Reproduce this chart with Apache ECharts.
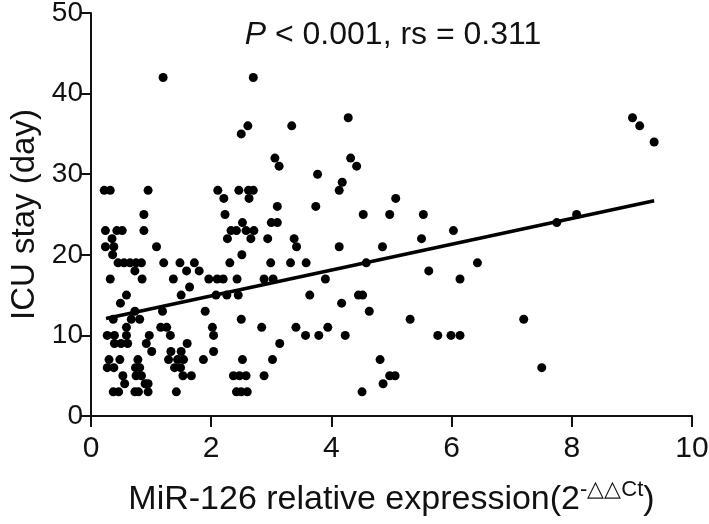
<!DOCTYPE html>
<html>
<head>
<meta charset="utf-8">
<title>MiR-126 vs ICU stay</title>
<script src="https://cdn.jsdelivr.net/npm/echarts@6/dist/echarts.min.js"></script>
<style>
  html, body { margin: 0; padding: 0; background: #fff; }
  #chart { width: 709px; height: 524px; }
</style>
</head>
<body>
<div id="chart"></div>
<script>
// axis ticks
const xTicks = [0, 2, 4, 6, 8, 10];
const yTicks = [0, 10, 20, 30, 40, 50];

// [miR-126 relative expression, ICU stay (day)]
const patients = [
  [1.2, 42], [2.7, 42],
  [4.28, 37], [9.01, 37],
  [2.61, 36], [3.34, 36], [9.13, 36],
  [2.5, 35], [9.37, 34],
  [3.06, 32], [4.32, 32], [3.13, 31], [4.42, 31],
  [3.77, 30], [4.18, 29],
  [0.22, 28], [0.32, 28], [0.95, 28], [2.11, 28], [2.46, 28], [2.62, 28], [2.7, 28], [4.13, 28],
  [2.21, 27], [2.63, 27], [5.07, 27],
  [3.1, 26], [3.74, 26],
  [0.88, 25], [2.23, 25], [4.53, 25], [4.97, 25], [5.53, 25], [8.08, 25],
  [2.52, 24], [3.0, 24], [3.1, 24], [7.75, 24],
  [0.24, 23], [0.43, 23], [0.52, 23], [0.88, 23], [2.33, 23], [2.42, 23], [2.58, 23], [2.71, 23], [6.03, 23],
  [0.35, 22], [2.27, 22], [2.66, 22], [2.94, 22], [3.38, 22], [5.5, 22],
  [0.24, 21], [0.38, 21], [1.09, 21], [3.42, 21], [4.13, 21], [4.85, 21],
  [0.36, 20], [2.51, 20],
  [0.45, 19], [0.55, 19], [0.65, 19], [0.75, 19], [0.84, 19], [1.21, 19], [1.48, 19], [1.72, 19],
  [2.31, 19], [2.99, 19], [3.32, 19], [3.58, 19], [4.58, 19], [6.43, 19],
  [0.73, 18], [1.59, 18], [1.8, 18], [5.62, 18],
  [0.32, 17], [0.85, 17], [1.37, 17], [1.96, 17], [2.1, 17], [2.2, 17], [2.43, 17], [2.88, 17],
  [3.03, 17], [3.9, 17], [6.14, 17],
  [1.64, 16],
  [0.59, 15], [1.5, 15], [2.08, 15], [2.26, 15], [2.45, 15], [3.64, 15], [4.45, 15], [4.52, 15],
  [0.49, 14], [4.17, 14],
  [0.73, 13], [1.19, 13], [1.9, 13], [4.63, 13],
  [0.37, 12], [0.67, 12], [0.81, 12], [2.5, 12], [5.31, 12], [7.2, 12],
  [0.59, 11], [1.16, 11], [1.26, 11], [2.02, 11], [2.84, 11], [3.41, 11], [3.94, 11],
  [0.27, 10], [0.39, 10], [0.59, 10], [0.97, 10], [1.32, 10], [2.04, 10], [3.57, 10], [3.79, 10],
  [4.23, 10], [5.77, 10], [5.99, 10], [6.14, 10],
  [0.39, 9], [0.5, 9], [0.61, 9], [0.92, 9], [1.6, 9], [3.14, 9],
  [1.01, 8], [1.33, 8], [1.5, 8], [2.04, 8],
  [0.3, 7], [0.48, 7], [0.78, 7], [1.29, 7], [1.44, 7], [1.54, 7], [1.87, 7], [2.52, 7], [3.02, 7], [4.81, 7],
  [0.27, 6], [0.38, 6], [0.74, 6], [0.81, 6], [1.39, 6], [1.49, 6], [7.5, 6],
  [0.53, 5], [0.75, 5], [0.84, 5], [1.53, 5], [1.67, 5], [2.37, 5], [2.47, 5], [2.58, 5], [2.88, 5],
  [4.97, 5], [5.06, 5],
  [0.56, 4], [0.9, 4], [0.95, 4], [4.86, 4],
  [0.37, 3], [0.46, 3], [0.73, 3], [0.79, 3], [0.95, 3], [1.42, 3], [2.42, 3], [2.5, 3], [2.6, 3], [4.51, 3]
];

// ends of the fitted line as drawn
const fitLine = [[0.25, 12.1], [9.37, 26.7]];

const statsText = ['P', ' < 0.001, rs = 0.311'];

const chart = echarts.init(document.getElementById('chart'));
const font = 'Arial, "Liberation Sans", sans-serif';

chart.setOption({
  animation: false,
  backgroundColor: '#fff',
  textStyle: { fontFamily: font },
  grid: { left: 91, right: 17, top: 13, bottom: 108, outerBoundsMode: 'none' },
  title: {
    text: '{i|' + statsText[0] + '}{n|' + statsText[1] + '}',
    left: 388,
    top: 14,
    textAlign: 'center',
    textStyle: {
      fontWeight: 'normal',
      rich: {
        i: { fontSize: 32, fontStyle: 'italic', fontWeight: 'normal', color: '#111', fontFamily: font },
        n: { fontSize: 32, fontWeight: 'normal', color: '#111', fontFamily: font }
      }
    }
  },
  xAxis: {
    type: 'value',
    min: xTicks[0],
    max: xTicks[xTicks.length - 1],
    interval: xTicks[1] - xTicks[0],
    splitLine: { show: false },
    axisLine: { onZero: false, lineStyle: { color: '#111', width: 2 } },
    axisTick: { show: true, length: 11, lineStyle: { color: '#111', width: 2 } },
    axisLabel: { color: '#111', fontSize: 30, margin: 18, fontFamily: font },
    name: '{n|MiR-126 relative expression(2}{s|-△△Ct}{n|)}',
    nameLocation: 'middle',
    nameGap: 63,
    nameTextStyle: {
      rich: {
        n: { fontSize: 34, color: '#111', fontFamily: font, verticalAlign: 'bottom' },
        s: { fontSize: 22, color: '#111', fontFamily: font, verticalAlign: 'top', padding: [0, 0, 16, 0] }
      }
    }
  },
  yAxis: {
    type: 'value',
    min: yTicks[0],
    max: yTicks[yTicks.length - 1],
    interval: yTicks[1] - yTicks[0],
    splitLine: { show: false },
    axisLine: { show: true, onZero: false, lineStyle: { color: '#111', width: 2 } },
    axisTick: { show: true, length: 10, lineStyle: { color: '#111', width: 2 } },
    axisLabel: { color: '#111', fontSize: 28, margin: 8, fontFamily: font },
    name: 'ICU stay (day)',
    nameLocation: 'middle',
    nameGap: 50,
    nameTextStyle: { fontSize: 33, color: '#111', fontFamily: font }
  },
  series: [
    {
      type: 'scatter',
      data: patients,
      symbol: 'circle',
      symbolSize: 9,
      itemStyle: { color: '#000', opacity: 1 },
      z: 3
    },
    {
      type: 'line',
      data: fitLine,
      symbol: 'none',
      lineStyle: { color: '#000', width: 3.5 },
      z: 4
    }
  ]
});
</script>
</body>
</html>
